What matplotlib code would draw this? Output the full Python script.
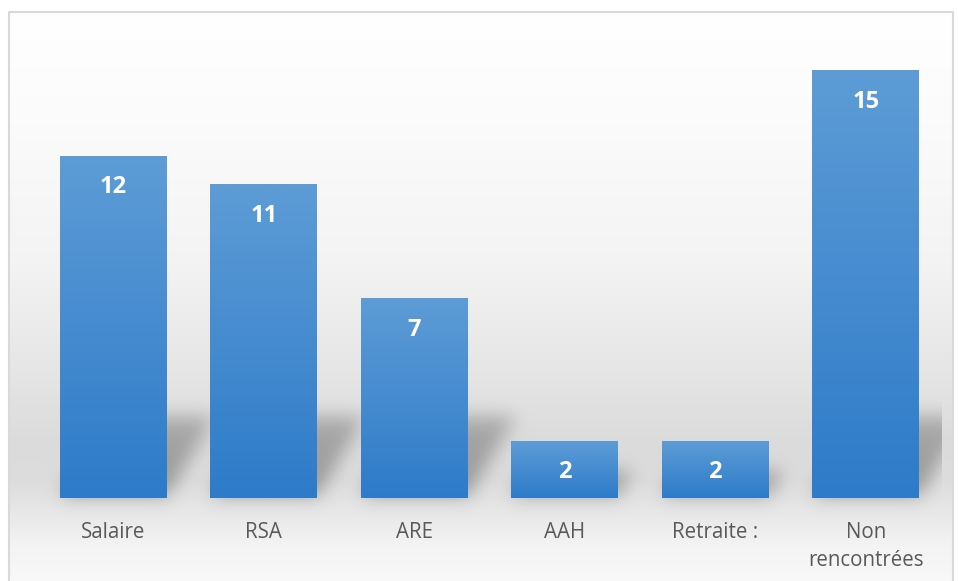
## Bar chart: sources de revenus

import numpy as np
import matplotlib
matplotlib.use('Agg')
import matplotlib.pyplot as plt
from matplotlib.colors import LinearSegmentedColormap

categories = ['Salaire', 'RSA', 'ARE', 'AAH', 'Retraite :', 'Non\nrencontrées']
values = [12, 11, 7, 2, 2, 15]

W, H = 958, 581
DPI = 100

plt.rcParams['font.family'] = ['Open Sans', 'DejaVu Sans']

fig = plt.figure(figsize=(W / DPI, H / DPI), dpi=DPI)

# background axes in pixel units (origin bottom-left)
bg = fig.add_axes([0, 0, 1, 1], zorder=0)
bg.set_xlim(0, W)
bg.set_ylim(0, H)
bg.axis('off')

ax = fig.add_axes([38 / W, (H - 498) / H, 903 / W, 456 / H], zorder=1)
ax.patch.set_alpha(0)
x = np.arange(len(categories))
bar_w = 0.71
ax.set_xlim(-0.5, len(categories) - 0.5)
ax.set_ylim(0, 16)

# vertical grey band of the chart area (rows counted from the top)
rows_top = np.arange(H)
ctrl_y = [12, 120, 260, 380, 440, 480, 510, 545, 581]
ctrl_v = [1.0, 0.985, 0.955, 0.895, 0.86, 0.865, 0.905, 0.955, 0.975]
shade_col = np.interp(rows_top, ctrl_y, ctrl_v)
img = np.repeat(shade_col[:, None], W, axis=1)
img[:12, :] = 1.0
img[:, :9] = 1.0
img[:, 954:] = 1.0
img = img[::-1]  # to bottom-origin rows

# floor shadows cast by the bars
mask = np.zeros((H, W))
tr = ax.transData
x1_ax, _ = tr.transform((len(categories) - 0.5, 0))
for xi, v in zip(x, values):
    xl, base = tr.transform((xi - bar_w / 2, 0))
    xr, top = tr.transform((xi + bar_w / 2, v))
    sh = min(0.5 * (top - base), 82)
    dx = 0.6 * sh
    for r in range(int(base) + 2, int(base + sh)):
        t = (r - base) / sh
        a = int(xl + t * dx)
        b = int(xr + t * dx)
        mask[r, a:b] = np.maximum(mask[r, a:b], 1.0 - 0.3 * t)


def blur(a, s):
    k = np.exp(-0.5 * (np.arange(-3 * s, 3 * s + 1) / s) ** 2)
    k /= k.sum()
    a = np.apply_along_axis(lambda r: np.convolve(r, k, mode='same'), 1, a)
    a = np.apply_along_axis(lambda c: np.convolve(c, k, mode='same'), 0, a)
    return a


mask = blur(mask, 9)
mask[:, int(x1_ax) + 1:] = 0
img = img * (1 - 0.32 * mask)

bg.imshow(np.dstack([img, img, img]), origin='lower', extent=(0, W, 0, H),
          aspect='auto', interpolation='bilinear', zorder=0)
# frame: left, top and right edges only, it runs off the bottom
bg.plot([9, 9, 953, 953], [-2, H - 12, H - 12, -2], color='#d9d9d9',
        lw=1.5, zorder=2)
bg.set_xlim(0, W)
bg.set_ylim(0, H)

# bars with a vertical blue gradient
cmap = LinearSegmentedColormap.from_list('barblue', ['#2e7bc9', '#5d9cd6'])
grad = np.linspace(0, 1, 256)[:, None]
for xi, v in zip(x, values):
    ax.imshow(grad, cmap=cmap, origin='lower', aspect='auto',
              extent=(xi - bar_w / 2, xi + bar_w / 2, 0, v), zorder=2)
    ax.annotate(str(v), (xi, v), xytext=(0, -22.5), textcoords='offset points',
                ha='center', va='center', color='white', fontsize=17,
                fontweight='bold', zorder=3)

ax.set_xlim(-0.5, len(categories) - 0.5)
ax.set_ylim(0, 16)
ax.set_aspect('auto')
ax.set_xticks(x)
ax.set_xticklabels(categories, color='#595959', fontsize=14.8, linespacing=1.45)
ax.tick_params(axis='x', length=0, pad=17)
ax.set_yticks([])
for s in ax.spines.values():
    s.set_visible(False)

plt.savefig('out.png', dpi=DPI, facecolor='white')
